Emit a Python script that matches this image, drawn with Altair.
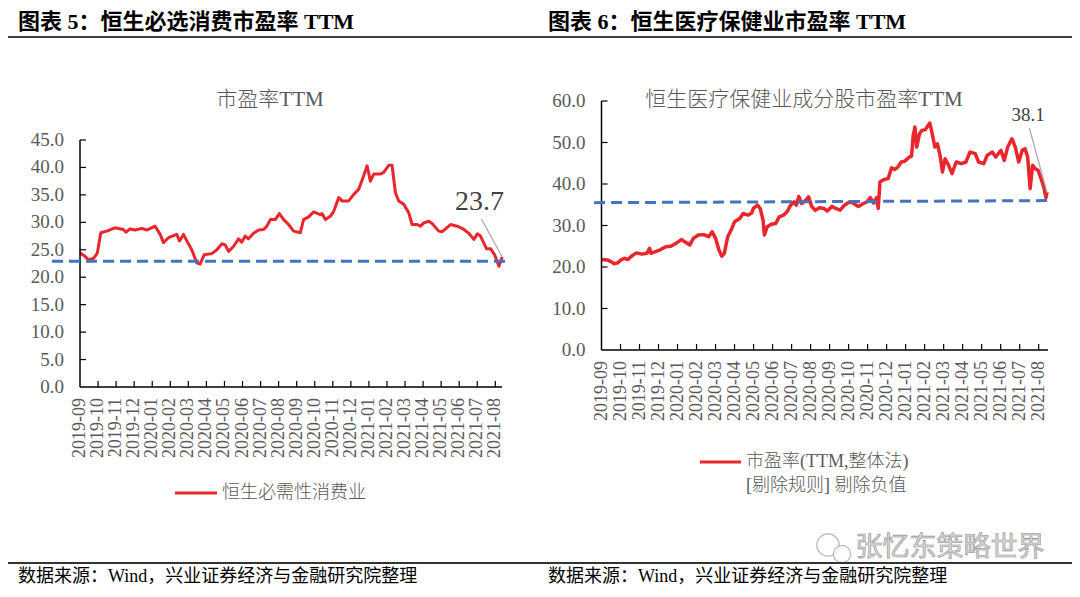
import altair as alt
import pandas as pd

# ---------------- data ----------------
MONTHS = ["2019-09", "2019-10", "2019-11", "2019-12", "2020-01", "2020-02", "2020-03",
          "2020-04", "2020-05", "2020-06", "2020-07", "2020-08", "2020-09", "2020-10",
          "2020-11", "2020-12", "2021-01", "2021-02", "2021-03", "2021-04", "2021-05",
          "2021-06", "2021-07", "2021-08"]

# left panel: 恒生必需性消费业 (x = months since 2019-09)
L_M = [0.00, 0.28, 0.46, 0.74, 0.96, 1.15, 1.48, 1.94, 2.40, 2.55, 2.77, 3.05, 3.42, 3.70,
       4.16, 4.44, 4.62, 4.90, 5.36, 5.51, 5.73, 5.92, 6.19, 6.47, 6.65, 6.88, 7.30, 7.58,
       7.86, 8.04, 8.23, 8.50, 8.78, 8.96, 9.15, 9.33, 9.61, 9.89, 10.17, 10.35, 10.54,
       10.81, 11.04, 11.28, 11.55, 11.83, 12.20, 12.38, 12.66, 12.94, 13.31, 13.40, 13.59,
       13.86, 14.05, 14.33, 14.51, 14.88, 15.16, 15.43, 15.71, 15.90, 16.08, 16.27, 16.64,
       16.82, 17.10, 17.28, 17.47, 17.65, 17.93, 18.21, 18.39, 18.67, 18.85, 19.04, 19.32,
       19.50, 19.87, 20.06, 20.52, 20.89, 21.26, 21.53, 21.81, 22.00, 22.18, 22.51, 22.74,
       22.96, 23.20, 23.38]
L_V = [24.4, 23.8, 23.2, 23.4, 24.4, 28.1, 28.4, 29.0, 28.7, 28.2, 28.8, 28.6, 28.9, 28.6,
       29.3, 27.8, 26.3, 27.2, 27.8, 26.6, 27.8, 26.6, 25.0, 22.6, 22.4, 24.1, 24.3, 25.0,
       26.1, 25.9, 24.7, 25.6, 27.0, 26.4, 27.5, 27.0, 28.0, 28.6, 28.7, 29.3, 30.5,
       30.5, 31.6, 30.5, 29.6, 28.4, 28.1, 30.5, 31.0, 31.9, 31.4, 31.6, 30.5,
       31.1, 32.0, 34.5, 33.9, 33.9, 35.1, 36.0, 38.5, 40.3, 37.5, 38.8, 38.8,
       39.1, 40.4, 40.4, 35.4, 33.9, 33.3, 31.7, 29.6, 29.6, 29.3, 29.9, 30.2,
       29.8, 28.4, 28.3, 29.6, 29.3, 28.7, 28.0, 26.9, 27.9, 27.5, 25.2, 25.2,
       24.1, 22.0, 23.7]
L_REF_M = [-1.55, 23.84]
L_REF_V = [22.9, 22.9]
L_LEAD_M = [22.23, 23.38]
L_LEAD_V = [30.6, 23.7]
L_LABEL_M = [22.12]
L_LABEL_V = [32.2]
L_LABEL_T = ["23.7"]

# right panel: 恒生医疗保健业成分股
R_M = [0.00, 0.31, 0.49, 0.67, 0.85, 1.03, 1.21, 1.39, 1.57, 1.84,
       2.12, 2.39, 2.53, 2.60, 2.84, 3.11, 3.38, 3.65, 3.92, 4.20,
       4.38, 4.65, 4.83, 5.10, 5.37, 5.64, 5.82, 6.00, 6.18, 6.33,
       6.46, 6.64, 6.82, 7.00, 7.27, 7.45, 7.72, 7.90, 7.99, 8.21,
       8.35, 8.50, 8.57, 8.72, 8.93, 9.17, 9.35, 9.58, 9.76, 9.95,
       10.13, 10.25, 10.38, 10.52, 10.71, 10.89, 11.07, 11.25, 11.46, 11.70,
       11.88, 12.12, 12.33, 12.55, 12.78, 13.06, 13.27, 13.51, 13.78, 13.96,
       14.14, 14.32, 14.47, 14.56, 14.65, 14.86, 15.08, 15.26, 15.44, 15.59,
       15.77, 15.95, 16.17, 16.31, 16.40, 16.49, 16.58, 16.73, 16.85, 17.03,
       17.27, 17.40, 17.54, 17.67, 17.81, 17.94, 18.08, 18.26, 18.44, 18.66,
       18.93, 19.17, 19.39, 19.66, 19.84, 20.11, 20.29, 20.56, 20.74, 21.01,
       21.19, 21.37, 21.59, 21.77, 21.95, 22.13, 22.28, 22.42, 22.55, 22.68,
       22.82, 22.97, 23.09, 23.27, 23.38, 23.44]
R_V = [21.8, 21.7, 21.3, 20.8, 21.0, 21.7, 22.1, 21.8, 22.6, 23.4,
       23.1, 23.3, 24.5, 23.3, 23.7, 24.2, 24.9, 25.0, 25.7, 26.6,
       26.1, 25.3, 26.9, 27.7, 27.8, 27.3, 28.5, 26.9, 24.1, 22.6,
       23.3, 27.3, 28.9, 30.9, 31.7, 32.9, 32.5, 33.0, 34.1, 34.9,
       34.1, 31.3, 27.7, 29.7, 30.3, 30.5, 32.1, 32.5, 33.3, 34.9,
       35.7, 34.9, 37.0, 35.3, 35.9, 36.9, 34.5, 33.7, 34.3, 34.1,
       33.5, 34.6, 34.1, 33.7, 34.9, 35.7, 35.3, 34.6, 35.3, 35.7,
       36.7, 35.4, 36.7, 34.1, 40.5, 41.1, 41.3, 43.9, 43.5, 44.1,
       45.3, 45.5, 46.4, 46.7, 51.7, 53.7, 48.9, 52.1, 52.9, 53.1,
       54.7, 52.1, 48.9, 49.7, 46.9, 42.9, 46.1, 44.5, 42.5, 45.3,
       44.9, 45.3, 47.7, 47.3, 45.3, 44.9, 46.9, 47.7, 46.5, 48.1,
       45.7, 48.9, 50.9, 48.9, 45.3, 48.1, 48.5, 46.5, 38.9, 44.5,
       43.7, 43.3, 41.7, 39.3, 36.7, 38.1]
R_REF_M = [-0.39, 23.6]
R_REF_V = [35.5, 36.0]
R_LEAD_M = [22.51, 23.45]
R_LEAD_V = [53.5, 37.8]
R_LABEL_M = [22.45]
R_LABEL_V = [55.2]
R_LABEL_T = ["38.1"]

L_YTICKS = [0, 5, 10, 15, 20, 25, 30, 35, 40, 45]
R_YTICKS = [0, 10, 20, 30, 40, 50, 60]
X_TICKS = list(range(len(MONTHS)))

# ---------------- layout / style ----------------
W, H = 1064, 578
RED = "#E8262B"
BLUE = "#4472C4"
GRAY = "#595959"
SERIF = "Liberation Serif"
MIX = "Liberation Serif, Noto Sans CJK SC"


def panel(m, v, ref_m, ref_v, lead_m, lead_v, lab_m, lab_v, lab_t, yticks,
          x0, x1, xmax, ybot, ytop, ymax, fsize, lw):
    xs = alt.Scale(domain=[0, xmax], range=[x0, x1], nice=False, zero=False)
    ys = alt.Scale(domain=[0, ymax], range=[ybot, ytop], nice=False, zero=False)

    def X(f="m:Q"):
        return alt.X(f, scale=xs, axis=None)

    def Y(f="v:Q"):
        return alt.Y(f, scale=ys, axis=None)

    line = alt.Chart(pd.DataFrame({"m": m, "v": v})).mark_line(
        color=RED, strokeWidth=lw, strokeJoin="round").encode(x=X(), y=Y())
    ref = alt.Chart(pd.DataFrame({"m": ref_m, "v": ref_v})).mark_line(
        color=BLUE, strokeWidth=3, strokeDash=[11, 6]).encode(x=X(), y=Y())
    lead = alt.Chart(pd.DataFrame({"m": lead_m, "v": lead_v})).mark_line(
        color="#a6a6a6", strokeWidth=1.2).encode(x=X(), y=Y())
    lab = alt.Chart(pd.DataFrame({"m": lab_m, "v": lab_v, "t": lab_t})).mark_text(
        font=SERIF, fontSize=fsize, color="#404040", align="center",
        baseline="alphabetic").encode(x=X(), y=Y(), text="t:N")
    # axis lines
    ydom = alt.Chart(pd.DataFrame({"v": [0], "v2": [ymax]})).mark_rule(
        color="black", strokeWidth=1.5).encode(y=Y(), y2="v2:Q", x=alt.value(x0))
    xdom = alt.Chart(pd.DataFrame({"m": [0], "m2": [xmax]})).mark_rule(
        color="black", strokeWidth=1.5).encode(x=X(), x2="m2:Q", y=alt.value(ybot))
    # inward tick marks
    ytk = alt.Chart(pd.DataFrame({"v": yticks[1:]})).mark_rule(
        color="black", strokeWidth=1.2).encode(y=Y(), x=alt.value(x0), x2=alt.value(x0 + 6))
    xtk = alt.Chart(pd.DataFrame({"m": X_TICKS[1:]})).mark_rule(
        color="black", strokeWidth=1.2).encode(x=X(), y=alt.value(ybot - 6), y2=alt.value(ybot))
    # tick labels
    ylab = alt.Chart(pd.DataFrame({"v": yticks, "t": ["%.1f" % t for t in yticks]})).mark_text(
        font=SERIF, fontSize=19, color=GRAY, align="right", baseline="middle").encode(
        y=Y(), x=alt.value(x0 - 16), text="t:N")
    xlab = alt.Chart(pd.DataFrame({"m": X_TICKS, "t": MONTHS})).mark_text(
        font=SERIF, fontSize=18, color=GRAY, align="right", baseline="middle",
        angle=270).encode(x=X(), y=alt.value(ybot + 11), text="t:N")
    return alt.layer(line, ydom, xdom, ytk, xtk, ylab, xlab, ref, lead, lab)


left = panel(L_M, L_V, L_REF_M, L_REF_V, L_LEAD_M, L_LEAD_V, L_LABEL_M, L_LABEL_V,
             L_LABEL_T, L_YTICKS, 72, 494, 23.37, 379, 132, 45, 28, 3)
right = panel(R_M, R_V, R_REF_M, R_REF_V, R_LEAD_M, R_LEAD_V, R_LABEL_M, R_LABEL_V,
              R_LABEL_T, R_YTICKS, 593.5, 1040, 23.49, 342, 93, 60, 19, 3.5)

ONE = pd.DataFrame({"k": [0]})


def txt(s, x, y, size, color="#000000", weight="normal", align="left", baseline="middle",
        font=MIX, **kw):
    return alt.Chart(ONE).mark_text(text=s, font=font, fontSize=size, color=color,
                                    fontWeight=weight, align=align, baseline=baseline,
                                    **kw).encode(x=alt.value(x), y=alt.value(y))


def hline(x1, x2, y, color, width):
    return alt.Chart(ONE).mark_rule(color=color, strokeWidth=width).encode(
        x=alt.value(x1), x2=alt.value(x2), y=alt.value(y))


decor = [
    txt("图表 5：恒生必选消费市盈率 TTM", 10, 14, 22, weight="bold"),
    txt("图表 6：恒生医疗保健业市盈率 TTM", 540, 14, 22, weight="bold"),
    hline(0, W, 29, "#404040", 2),
    txt("市盈率TTM", 262, 92, 21, color=GRAY, align="center", weight=300),
    txt("恒生医疗保健业成分股市盈率TTM", 796, 92, 21, color=GRAY, align="center", weight=300),
    hline(167, 209, 485, RED, 3),
    txt("恒生必需性消费业", 214, 485, 18, color=GRAY, weight=300),
    hline(692, 733, 454, RED, 3),
    txt("市盈率(TTM,整体法)", 738, 454, 18, color=GRAY, weight=300),
    txt("[剔除规则] 剔除负值", 738, 478, 18, color=GRAY, weight=300),
    alt.Chart(ONE).mark_point(shape="circle", size=500, filled=True, fill="white",
                              stroke="#9a9a9a", strokeWidth=1.2).encode(
        x=alt.value(820), y=alt.value(537)),
    alt.Chart(ONE).mark_point(shape="circle", size=300, filled=True, fill="white",
                              stroke="#9a9a9a", strokeWidth=1.2).encode(
        x=alt.value(834), y=alt.value(546)),
    txt("张忆东策略世界", 942, 540, 27, color="#dcdcdc", align="center",
        font="Noto Sans CJK SC", stroke="#8c8c8c", strokeWidth=0.6),
    hline(0, W, 555, "#333333", 2),
    txt("数据来源：Wind，兴业证券经济与金融研究院整理", 10, 569, 18),
    txt("数据来源：Wind，兴业证券经济与金融研究院整理", 540, 569, 18),
]

chart = alt.layer(left, right, *decor).resolve_scale(
    x="independent", y="independent").properties(
    width=W, height=H, padding=0,
    autosize=alt.AutoSizeParams(type="none")).configure_view(stroke=None)

chart.save("out.html", embed_options={"renderer": "svg", "actions": False})
